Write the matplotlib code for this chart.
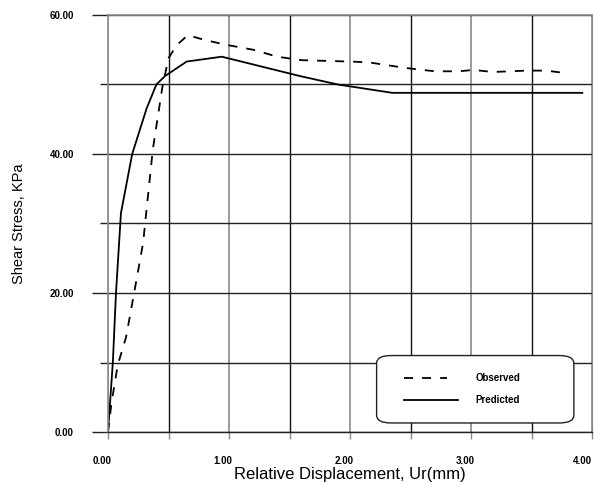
import matplotlib
matplotlib.use('Agg')
import matplotlib.pyplot as plt
import matplotlib.transforms as mtransforms
from matplotlib.patches import FancyBboxPatch
import numpy as np

plt.rcParams['font.family'] = ['Liberation Sans', 'DejaVu Sans']

# observed (dashed)
obs_x = [0.0, 0.03, 0.08, 0.15, 0.22, 0.29, 0.37, 0.45, 0.50, 0.57, 0.66,
         0.80, 0.98, 1.20, 1.40, 1.60, 2.00, 2.15, 2.30, 2.45, 2.70, 2.90,
         3.02, 3.18, 3.46, 3.62, 3.80]
obs_y = [0.0, 4.3, 9.6, 13.7, 20.4, 27.2, 40.6, 49.7, 53.8, 55.7, 57.1,
         56.4, 55.7, 55.0, 54.0, 53.5, 53.3, 53.2, 52.8, 52.4, 51.9, 51.9,
         52.1, 51.8, 52.0, 52.0, 51.6]

# predicted (solid)
pred_x = [0.0, 0.04, 0.066, 0.107, 0.20, 0.32, 0.40, 0.47, 0.65, 0.94,
          1.59, 1.90, 2.35, 3.92]
pred_y = [0.0, 10.0, 20.0, 31.5, 40.0, 46.6, 50.0, 51.2, 53.3, 54.0,
          51.2, 50.0, 48.8, 48.8]

xticks = [0, 1, 2, 3, 4]
xtick_labels = ['0.00', '1.00', '2.00', '3.00', '4.00']
yticks = [0, 20, 40, 60]
ytick_labels = ['0.00', '20.00', '40.00', '60.00']

fig = plt.figure(figsize=(5.94, 4.86), dpi=100)
ax = fig.add_axes([108/594, 1-432/486, (592-108)/594, (432-15)/486])

ax.set_xlim(0, 4)
ax.set_ylim(0, 60)

ax.set_xticks(xticks)
ax.set_xticklabels(xtick_labels, fontweight='bold')
ax.set_xticks(np.arange(0.5, 4, 1.0), minor=True)
ax.set_yticks(yticks)
ax.set_yticklabels(ytick_labels, fontweight='bold')
ax.set_yticks([10, 30, 50], minor=True)

ax.xaxis.grid(True, which='major', color='#8a8a8a', lw=1.2)
ax.xaxis.grid(True, which='minor', color='#111111', lw=1.0)
ax.yaxis.grid(True, which='both', color='#222222', lw=1.0)
ax.set_axisbelow(True)

for s in ['left', 'top']:
    ax.spines[s].set_color('#8a8a8a')
    ax.spines[s].set_linewidth(1.2)
ax.spines['right'].set_color('#8a8a8a')
ax.spines['bottom'].set_color('#222222')
ax.spines['bottom'].set_linewidth(1.0)

ax.tick_params(axis='y', which='major', length=11.5, width=1.0, color='#222222',
               pad=13, labelsize=7)
ax.tick_params(axis='y', which='minor', length=5.8, width=1.0, color='#222222')
ax.tick_params(axis='x', which='both', length=5, width=1.0, color='#8a8a8a',
               pad=12, labelsize=7)

# x tick labels sit a little left of their grid lines in the original
for i, lab in enumerate(ax.get_xticklabels()):
    dx = -10 if i == len(xticks) - 1 else -6
    lab.set_transform(lab.get_transform() +
                      mtransforms.ScaledTranslation(dx/100, 0, fig.dpi_scale_trans))

ax.plot(obs_x, obs_y, color='black', lw=1.3, ls=(0, (5, 5)))
ax.plot(pred_x, pred_y, color='black', lw=1.3)

ax.set_xlabel('Relative Displacement, Ur(mm)', fontsize=12, labelpad=1)
ax.set_ylabel('Shear Stress, KPa', fontsize=10.5, labelpad=17)

# legend box
box = FancyBboxPatch((2.22, 1.3), 3.85-2.22, 11.0-1.3,
                     boxstyle='round,pad=0,rounding_size=0.12',
                     mutation_aspect=60/4*0.6,
                     fc='white', ec='#222222', lw=1.0, zorder=3)
ax.add_patch(box)
ax.plot([2.45, 2.80], [7.8, 7.8], color='black', lw=1.3, ls=(0, (5, 5)), zorder=4)
ax.plot([2.45, 2.89], [4.6, 4.6], color='black', lw=1.3, zorder=4)
ax.text(3.04, 7.8, 'Observed', fontsize=7, fontweight='bold', va='center', zorder=4)
ax.text(3.04, 4.6, 'Predicted', fontsize=7, fontweight='bold', va='center', zorder=4)

fig.savefig('out.png', dpi=100)
